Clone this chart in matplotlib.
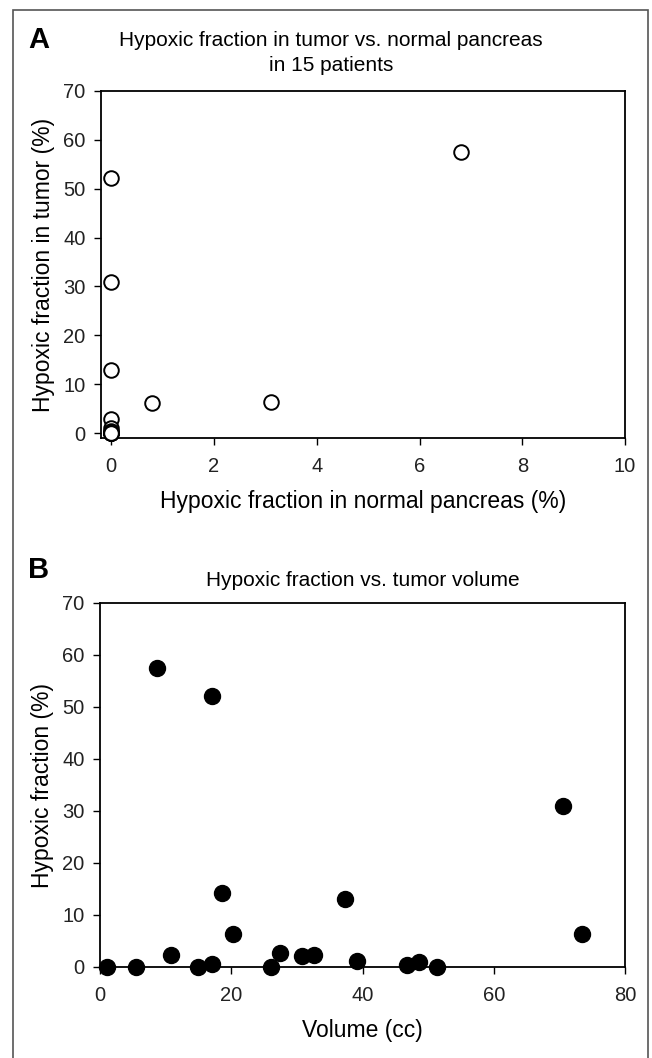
import matplotlib
matplotlib.use("Agg")
import matplotlib.pyplot as plt
from matplotlib.patches import Rectangle

plt.rcParams['font.family'] = ['Liberation Sans', 'DejaVu Sans']

# Panel A: hypoxic fraction in normal pancreas vs tumor (15 patients)
normal_hf = [6.8, 0.0, 0.0, 0.0, 3.1, 0.8, 0.0, 0.0, 0.0, 0.0, 0.0, 0.0, 0.0, 0.0, 0.0]
tumor_hf = [57.5, 52.2, 30.9, 13.0, 6.4, 6.2, 2.8, 1.0, 0.4, 0.0, 0.0, 0.0, 0.0, 0.0, 0.0]

# Panel B: hypoxic fraction vs tumor volume
volume_cc = [1.0, 5.5, 8.7, 10.8, 15.0, 17.0, 17.1, 18.6, 20.3, 26.1, 27.5, 30.8,
             32.6, 37.4, 39.2, 46.8, 48.6, 51.3, 70.5, 73.4]
hypoxic_frac = [0.0, 0.0, 57.5, 2.4, 0.0, 0.6, 52.2, 14.3, 6.4, 0.0, 2.7, 2.1,
                2.3, 13.0, 1.2, 0.3, 1.0, 0.0, 30.9, 6.3]

W, H = 652, 1058
fig = plt.figure(figsize=(W / 100, H / 100), dpi=100)

# outer frame
fig.patches.append(Rectangle((13 / W, -0.01), (648 - 13) / W, 1 - 10 / H + 0.01,
                             transform=fig.transFigure, fill=False,
                             edgecolor="#555555", linewidth=1.2))


def style(ax):
    for s in ax.spines.values():
        s.set_linewidth(1.3)
        s.set_color("black")
    ax.tick_params(axis="both", direction="out", length=5, width=1,
                   labelsize=14.5, top=False, right=False, labelcolor="#222222")
    ax.tick_params(axis="x", pad=9)
    ax.tick_params(axis="y", pad=6)


# --- Panel A ---
axA = fig.add_axes([101 / W, 1 - 438 / H, (625 - 101) / W, (438 - 91) / H])
axA.plot(normal_hf, tumor_hf, "o", markersize=10.5, markerfacecolor="white",
         markeredgecolor="black", markeredgewidth=1.4, clip_on=False, zorder=3)
axA.set_xlim(-0.2, 10)
axA.set_ylim(-1, 70)
axA.set_xticks(range(0, 11, 2))
axA.set_yticks(range(0, 71, 10))
style(axA)
axA.set_xlabel("Hypoxic fraction in normal pancreas (%)", fontsize=16.5, labelpad=10)
axA.set_ylabel("Hypoxic fraction in tumor (%)", fontsize=16.5, labelpad=6)
fig.text(331 / W, 1 - 53 / H, "Hypoxic fraction in tumor vs. normal pancreas\nin 15 patients",
         fontsize=15, ha="center", va="center", linespacing=1.35)
fig.text(28 / W, 1 - 40 / H, "A", fontsize=21, fontweight="bold", va="center")

# --- Panel B ---
axB = fig.add_axes([100 / W, 1 - 967 / H, (625 - 100) / W, (967 - 603) / H])
axB.plot(volume_cc, hypoxic_frac, "o", markersize=11.5, color="black",
         clip_on=False, zorder=3)
axB.set_xlim(0, 80)
axB.set_ylim(0, 70)
axB.set_xticks(range(0, 81, 20))
axB.set_yticks(range(0, 71, 10))
style(axB)
axB.set_xlabel("Volume (cc)", fontsize=16.5, labelpad=10)
axB.set_ylabel("Hypoxic fraction (%)", fontsize=16.5, labelpad=6)
axB.set_title("Hypoxic fraction vs. tumor volume", fontsize=15, pad=12)
fig.text(28 / W, 1 - 570 / H, "B", fontsize=21, fontweight="bold", va="center")

fig.savefig("out.png", dpi=100)
